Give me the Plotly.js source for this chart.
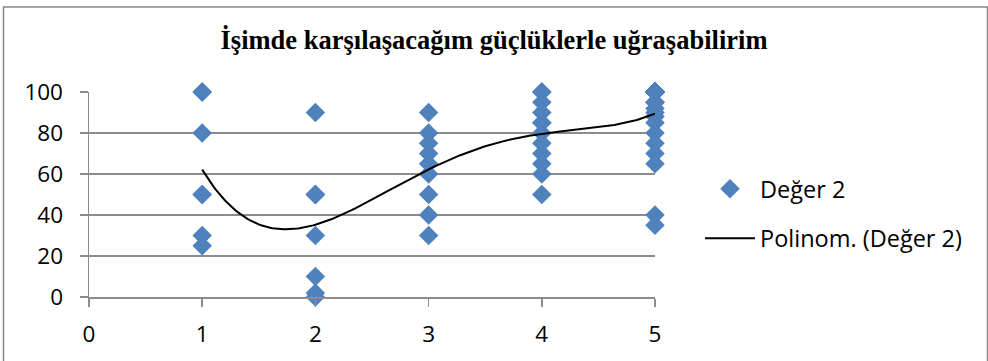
<!DOCTYPE html>
<html>
<head>
<meta charset="utf-8">
<script src="https://cdn.plot.ly/plotly-3.0.1.min.js"></script>
<style>
  html, body { margin: 0; padding: 0; background: #ffffff; }
  #chart { width: 988px; height: 361px; }
</style>
</head>
<body>
<div id="chart"></div>
<script>
// Responses grouped by answer level (1..5), scores 0-100.
// Repeated scores sit on top of each other in the scatter.
const level1 = [100, 100, 80, 50, 50, 30, 25];
const level2 = [90, 50, 50, 50, 30, 10, 2, 0];
const level3 = [90, 80, 75, 70, 65, 60, 50, 40, 30];
const level4 = [100, 100, 95, 90, 85, 85, 80, 75, 70, 65, 60, 50];
const level5 = [100, 100, 100, 100, 100, 100, 100, 100, 100, 100, 100, 100, 100, 100, 100,
                95, 95, 95, 92, 90, 88, 85, 80, 75, 70, 65, 40, 35];

const levels = [1, 2, 3, 4, 5];
const groups = [level1, level2, level3, level4, level5];

const xTicks = [0, 1, 2, 3, 4, 5];
const yTicks = [0, 20, 40, 60, 80, 100];

const chartTitle = 'İşimde karşılaşacağım güçlüklerle uğraşabilirim';
const seriesName = 'Değer 2';
const trendName = 'Polinom. (Değer 2)';
const polyOrder = 4;

// Flatten the groups into x/y pairs
const xs = [], ys = [];
groups.forEach((g, i) => g.forEach(v => { xs.push(levels[i]); ys.push(v); }));

// Least-squares polynomial fit (centred on x = 3 for stability)
function polyFit(x, y, order, c) {
  const n = order + 1;
  const A = Array.from({length: n}, () => new Array(n + 1).fill(0));
  for (let k = 0; k < x.length; k++) {
    const t = x[k] - c;
    const pw = [];
    for (let i = 0; i < 2 * n; i++) pw.push(Math.pow(t, i));
    for (let i = 0; i < n; i++) {
      for (let j = 0; j < n; j++) A[i][j] += pw[i + j];
      A[i][n] += pw[i] * y[k];
    }
  }
  for (let i = 0; i < n; i++) {
    let p = i;
    for (let r = i + 1; r < n; r++) if (Math.abs(A[r][i]) > Math.abs(A[p][i])) p = r;
    [A[i], A[p]] = [A[p], A[i]];
    for (let r = 0; r < n; r++) {
      if (r === i) continue;
      const f = A[r][i] / A[i][i];
      for (let cc = i; cc <= n; cc++) A[r][cc] -= f * A[i][cc];
    }
  }
  return A.map((row, i) => row[n] / row[i]);
}

const centre = 3;
const coef = polyFit(xs, ys, polyOrder, centre);
const xMin = Math.min(...xs), xMax = Math.max(...xs);
const fitX = [], fitY = [];
for (let i = 0; i <= 200; i++) {
  const x = xMin + (xMax - xMin) * i / 200;
  const t = x - centre;
  let v = 0;
  coef.forEach((a, k) => { v += a * Math.pow(t, k); });
  fitX.push(x); fitY.push(v);
}

const gridColor = '#8c8c8c';
const tickFont = { family: '"Open Sans", Lato, sans-serif', size: 22.5, color: '#000000' };
const legendFont = { family: '"Open Sans", Lato, sans-serif', size: 23.5, color: '#000000' };

const traces = [
  {
    type: 'scatter', mode: 'markers', name: seriesName,
    x: xs, y: ys, legendgroup: 'a',
    marker: { symbol: 'diamond', size: 15, color: '#4f81bd' },
    cliponaxis: false
  },
  {
    type: 'scatter', mode: 'lines', name: trendName,
    x: fitX, y: fitY, legendgroup: 'b',
    line: { color: '#000000', width: 2 },
    cliponaxis: false
  }
];

const layout = {
  width: 988, height: 361,
  margin: { l: 89, r: 333, t: 92, b: 64 },
  paper_bgcolor: '#ffffff', plot_bgcolor: '#ffffff',
  title: {
    text: '<b>' + chartTitle + '</b>',
    font: { family: '"Liberation Serif", "Times New Roman", serif', size: 26.5, color: '#000000' },
    x: 0.5, xref: 'container', xanchor: 'center',
    y: 1 - 40 / 361, yref: 'container', yanchor: 'middle'
  },
  xaxis: {
    range: [0, 5], tickvals: xTicks, ticktext: xTicks.map(String),
    showgrid: false, zeroline: false,
    showline: true, linecolor: gridColor, linewidth: 1.5,
    ticks: 'outside', ticklen: 8, tickwidth: 1.5, tickcolor: gridColor,
    ticklabelstandoff: 8,
    tickfont: tickFont, fixedrange: true
  },
  yaxis: {
    range: [0, 100], tickvals: yTicks, ticktext: yTicks.map(String),
    showgrid: true, gridcolor: gridColor, gridwidth: 1.5,
    zeroline: false,
    showline: true, linecolor: gridColor, linewidth: 1.5,
    ticks: 'outside', ticklen: 8, tickwidth: 1.5, tickcolor: gridColor,
    ticklabelstandoff: 12,
    tickfont: tickFont, fixedrange: true
  },
  showlegend: true,
  legend: {
    xref: 'container', yref: 'container',
    x: 700 / 988, y: 1 - 167 / 361, xanchor: 'left', yanchor: 'top',
    font: legendFont, bgcolor: 'rgba(0,0,0,0)',
    tracegroupgap: 16, itemwidth: 50
  },
  shapes: [
    {
      type: 'rect', xref: 'paper', yref: 'paper', layer: 'below',
      x0: (3.5 - 89) / 566, x1: (987.5 - 89) / 566,
      y0: -0.5, y1: (297 - 7) / 205,
      line: { color: '#868686', width: 1.5 }, fillcolor: 'rgba(0,0,0,0)'
    }
  ]
};

Plotly.newPlot('chart', traces, layout, { staticPlot: true, displayModeBar: false });
</script>
</body>
</html>
